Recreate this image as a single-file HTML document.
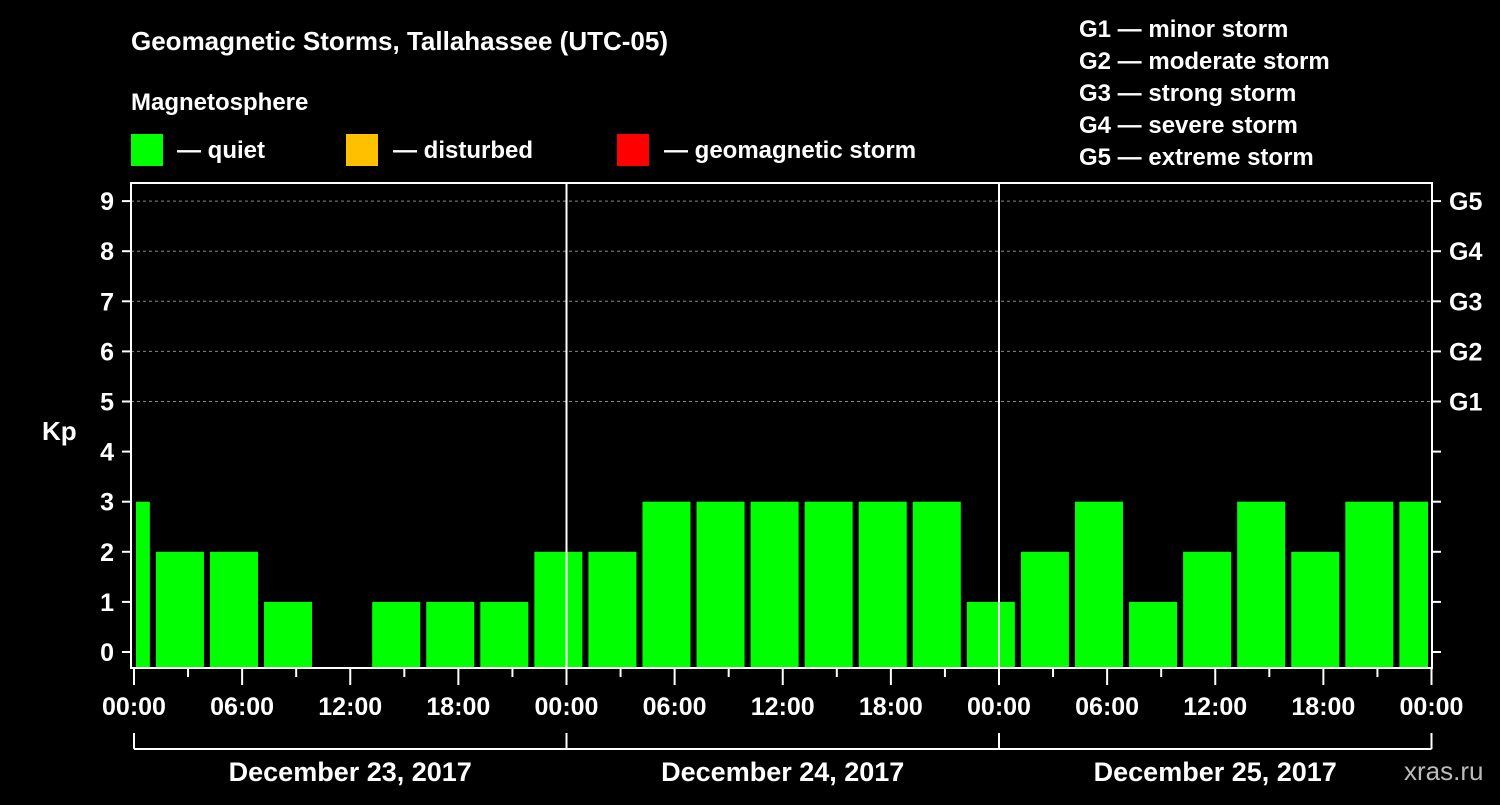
<!DOCTYPE html>
<html><head><meta charset="utf-8"><style>
body{margin:0;background:#000;}
svg text{font-family:"Liberation Sans",Arial,sans-serif;font-weight:bold;fill:#fff;}
</style></head><body>
<svg width="1500" height="800" viewBox="0 0 1500 800">
<rect width="1500" height="800" fill="#000"/>
<text x="131" y="50" font-size="26">Geomagnetic Storms, Tallahassee (UTC-05)</text>
<text x="131" y="110" font-size="24">Magnetosphere</text>
<g><rect x="131" y="134" width="32" height="32" fill="#00ff00"/><text x="177" y="158" font-size="24">— quiet</text></g>
<g><rect x="346" y="134" width="32" height="32" fill="#ffc000"/><text x="393" y="158" font-size="24">— disturbed</text></g>
<g><rect x="617" y="134" width="32" height="32" fill="#ff0000"/><text x="664" y="158" font-size="24">— geomagnetic storm</text></g>
<g font-size="24">
<text x="1079" y="37">G1 — minor storm</text>
<text x="1079" y="69">G2 — moderate storm</text>
<text x="1079" y="101">G3 — strong storm</text>
<text x="1079" y="133">G4 — severe storm</text>
<text x="1079" y="165">G5 — extreme storm</text>
</g>
<text x="42" y="440" font-size="26">Kp</text>
<text x="1404" y="780" font-size="26" fill="#bbb" style="fill:#bbb;font-weight:normal">xras.ru</text>
<defs><clipPath id="pc"><rect x="136" y="183" width="1292" height="485"/></clipPath></defs>
<g id="grid"></g>
<g id="bars" clip-path="url(#pc)"></g>
<g id="axes"></g>
</svg>
<script>
const kpValues=[3,2,2,1,0,1,1,1,2,2,3,3,3,3,3,3,1,2,3,1,2,3,2,3,3];
const yTicks=[0,1,2,3,4,5,6,7,8,9];
const gLabels=["G1","G2","G3","G4","G5"];
const xTickLabels=["00:00","06:00","12:00","18:00","00:00","06:00","12:00","18:00","00:00","06:00","12:00","18:00","00:00"];
const dayLabels=["December 23, 2017","December 24, 2017","December 25, 2017"];
const NS="http://www.w3.org/2000/svg";
const x0=134, dayW=432.5, yBase=652, unit=50.1, plotBottom=668, plotTop=183, plotRight=1432;
const xh=h=>x0+h*dayW/24;
const yk=v=>yBase-v*unit;
function mk(tag,attrs,parent){const e=document.createElementNS(NS,tag);for(const k in attrs)e.setAttribute(k,attrs[k]);parent.appendChild(e);return e;}
const grid=document.getElementById('grid'),bars=document.getElementById('bars'),axes=document.getElementById('axes');
// gridlines 5..9
for(let v=5;v<=9;v++){const l=mk('line',{x1:131,x2:plotRight,y1:yk(v),y2:yk(v),stroke:'#888','stroke-dasharray':'3,3','stroke-width':1},grid);

}
// bars: slot k starts at -1.95h + 3k hours (local offset)
kpValues.forEach((v,i)=>{const hs=-1.95+3*i;const xs=xh(hs)+3;const w=48;
if(v<=0)return;
const r=mk('rect',{x:xs,y:yk(v),width:w,height:plotBottom-yk(v),fill:'#00ff00'},bars);

});
// frame
const f=mk('rect',{x:131,y:plotTop,width:plotRight-131,height:plotBottom-plotTop,fill:'none',stroke:'#fff','stroke-width':2},axes);


[1,2].forEach(d=>{const l=mk('line',{x1:xh(24*d),x2:xh(24*d),y1:plotTop,y2:plotBottom,stroke:'#fff','stroke-width':2},axes);

});
yTicks.forEach(v=>{mk('line',{x1:122,x2:131,y1:yk(v),y2:yk(v),stroke:'#fff','stroke-width':2},axes);
mk('line',{x1:plotRight,x2:1441,y1:yk(v),y2:yk(v),stroke:'#fff','stroke-width':2},axes);
const t=mk('text',{x:114,y:yk(v)+9,'font-size':25,'text-anchor':'end'},axes);t.textContent=v;

});
gLabels.forEach((g,i)=>{const t=mk('text',{x:1449,y:yk(5+i)+9,'font-size':25},axes);t.textContent=g;

});
for(let h=0;h<=72;h+=3){const major=h%6===0;mk('line',{x1:xh(h),x2:xh(h),y1:plotBottom,y2:major?685:677,stroke:'#fff','stroke-width':2},axes);}
xTickLabels.forEach((s,i)=>{const t=mk('text',{x:xh(i*6),y:715,'font-size':25,'text-anchor':'middle'},axes);t.textContent=s;

});
mk('line',{x1:xh(0),x2:xh(72),y1:749,y2:749,stroke:'#fff','stroke-width':2},axes);
for(let d=0;d<=3;d++)mk('line',{x1:xh(24*d),x2:xh(24*d),y1:733,y2:749,stroke:'#fff','stroke-width':2},axes);
dayLabels.forEach((s,i)=>{const t=mk('text',{x:xh(24*i+12),y:781,'font-size':27,'text-anchor':'middle'},axes);t.textContent=s;

});
</script>
</body></html>
